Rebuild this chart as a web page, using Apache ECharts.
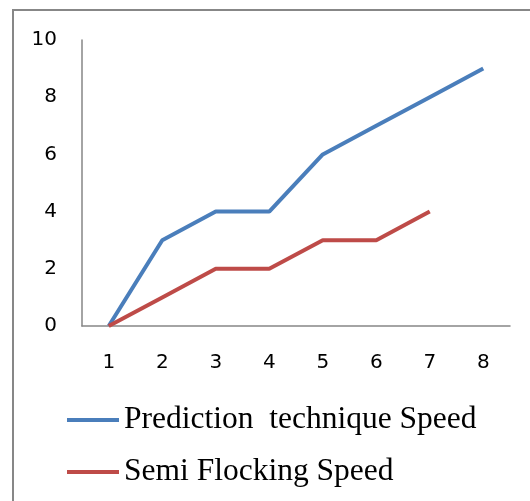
<!DOCTYPE html>
<html><head><meta charset="utf-8">
<script src="https://cdn.jsdelivr.net/npm/echarts@6/dist/echarts.min.js"></script>
<style>html,body{margin:0;padding:0;background:#fff}#c{width:530px;height:501px}</style>
</head><body><div id="c"></div>
<script>
const categories = ['1','2','3','4','5','6','7','8'];
const predictionSpeed = [0,3,4,4,6,7,8,9];
const semiFlockingSpeed = [0,1,2,2,3,3,4];
const yTicks = [0,2,4,6,8,10];

const chart = echarts.init(document.getElementById('c'), null, {renderer:'canvas'});
chart.setOption({
  animation:false,
  backgroundColor:'#fff',
  graphic:[{type:'rect',shape:{x:13,y:10,width:700,height:700},style:{fill:'none',stroke:'#878787',lineWidth:2},silent:true}],
  grid:{left:82,top:40,width:428,height:286,containLabel:false},
  xAxis:{type:'category',data:categories,boundaryGap:true,
    axisLine:{lineStyle:{color:'#868686',width:1.5}},axisTick:{show:false},
    axisLabel:{color:'#000',fontFamily:'DejaVu Sans',fontSize:20,margin:27},splitLine:{show:false}},
  yAxis:{type:'value',min:yTicks[0],max:yTicks[yTicks.length-1],interval:2,
    axisLine:{show:true,lineStyle:{color:'#868686',width:1.5}},axisTick:{show:false},
    axisLabel:{color:'#000',fontFamily:'DejaVu Sans',fontSize:20,margin:25},splitLine:{show:false}},
  legend:{orient:'vertical',left:62,top:399,icon:'rect',itemWidth:52,itemHeight:4,itemGap:20,
    textStyle:{fontFamily:'Liberation Serif',fontSize:31.5,lineHeight:31,color:'#000'},
    data:['Prediction  technique Speed','Semi Flocking Speed']},
  series:[
    {name:'Prediction  technique Speed',type:'line',data:predictionSpeed,showSymbol:false,symbol:'none',
     color:'#4a7ebb',lineStyle:{width:4,color:'#4a7ebb'}},
    {name:'Semi Flocking Speed',type:'line',data:semiFlockingSpeed,showSymbol:false,symbol:'none',
     color:'#be4b48',lineStyle:{width:4,color:'#be4b48'}}
  ]
});
</script></body></html>
